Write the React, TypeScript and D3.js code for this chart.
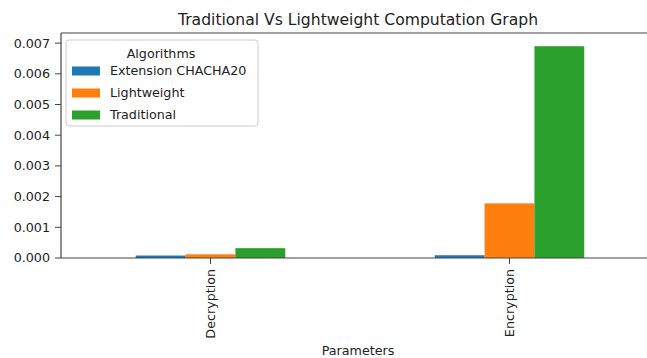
import React from "react";
import * as d3 from "d3";

const categories = ["Decryption", "Encryption"];
const seriesNames = ["Extension CHACHA20", "Lightweight", "Traditional"];
const extensionValues = [0.00008, 0.00009];
const lightweightValues = [0.00012, 0.00178];
const traditionalValues = [0.00032, 0.0069];
const yTicks = [0, 0.001, 0.002, 0.003, 0.004, 0.005, 0.006, 0.007];
const colors = ["#1f77b4", "#ff7f0e", "#2ca02c"];

const W = 647, H = 358;
const left = 61, right = 659, top = 33, bottom = 258;

export default function App() {
  const series = [extensionValues, lightweightValues, traditionalValues];
  const x = d3.scaleLinear().domain([-0.5, 1.5]).range([left, right]);
  const y = d3.scaleLinear().domain([0, 0.00733]).range([bottom, top]);
  const barW = 0.5 / 3;
  const font = "DejaVu Sans, sans-serif";
  const fs = 12.7;
  return (
    <svg width={W} height={H} style={{ position: "absolute", left: 0, top: 0, background: "#fff" }} fontFamily={font}>
      <rect x={0} y={0} width={W} height={H} fill="#fff" />
      {series.map((vals, si) =>
        vals.map((v, ci) => {
          const x0 = x(ci - 0.25 + si * barW);
          const x1 = x(ci - 0.25 + (si + 1) * barW);
          return (
            <rect key={`${si}-${ci}`} x={x0} y={y(v)} width={x1 - x0} height={y(0) - y(v)} fill={colors[si]} />
          );
        })
      )}
      {/* spines */}
      <g stroke="#444" strokeWidth={1.2} fill="none">
        <line x1={left} y1={top} x2={left} y2={bottom} />
        <line x1={left} y1={bottom} x2={right} y2={bottom} />
        <line x1={left} y1={top} x2={right} y2={top} />
      </g>
      {yTicks.map((t) => (
        <g key={t} transform={`translate(${left},${y(t)})`}>
          <line x1={-6} x2={0} stroke="#444" strokeWidth={1} />
          <text x={-11} dy="0.35em" textAnchor="end" fontSize={fs} fill="#222">
            {d3.format(".3f")(t)}
          </text>
        </g>
      ))}
      {categories.map((c, i) => (
        <g key={c} transform={`translate(${x(i)},${bottom})`}>
          <line y1={0} y2={6} stroke="#444" strokeWidth={1} />
          <text transform="translate(0,11) rotate(-90)" dy="0.35em" textAnchor="end" fontSize={fs} fill="#222">
            {c}
          </text>
        </g>
      ))}
      <text x={358} y={355} textAnchor="middle" fontSize={fs} fill="#222">Parameters</text>
      <text x={358} y={25} textAnchor="middle" fontSize={15.6} fill="#222">
        Traditional Vs Lightweight Computation Graph
      </text>
      {/* legend */}
      <g>
        <rect x={66} y={40} width={192} height={86} rx={3} fill="#fff" fillOpacity={0.8} stroke="#ccc" strokeWidth={1} />
        <text x={161} y={54} dy="0.35em" textAnchor="middle" fontSize={fs} fill="#222">Algorithms</text>
        {seriesNames.map((n, i) => (
          <g key={n} transform={`translate(0,${71 + i * 22})`}>
            <rect x={72} y={-4.5} width={28} height={9} fill={colors[i]} />
            <text x={110} dy="0.35em" fontSize={fs} fill="#222">{n}</text>
          </g>
        ))}
      </g>
    </svg>
  );
}
